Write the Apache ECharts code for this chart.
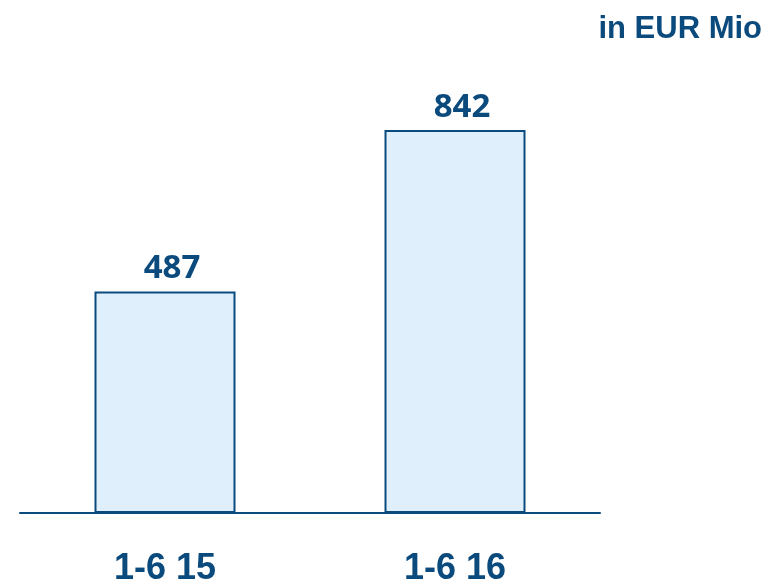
<!DOCTYPE html>
<html>
<head>
<meta charset="utf-8">
<script src="https://cdn.jsdelivr.net/npm/echarts@6/dist/echarts.min.js"></script>
<style>
  html, body { margin: 0; padding: 0; background: #ffffff; }
  #chart { width: 767px; height: 583px; }
</style>
</head>
<body>
<div id="chart"></div>
<script>
// Half-year periods and their values (EUR million)
const categories = ['1-6 15', '1-6 16'];
const values = [487, 842];
const unitLabel = 'in EUR Mio';

const navy = '#0b4a7d';

const chart = echarts.init(document.getElementById('chart'));
chart.setOption({
  animation: false,
  backgroundColor: '#ffffff',
  title: {
    text: unitLabel,
    right: 0,
    top: 9,
    textStyle: {
      fontFamily: 'Liberation Sans',
      fontWeight: 'bold',
      fontSize: 31,
      color: navy
    }
  },
  grid: { left: 20, right: 167, top: 58, bottom: 70, outerBoundsMode: 'none' },
  xAxis: {
    type: 'category',
    data: categories,
    axisLine: { lineStyle: { color: navy, width: 2 } },
    axisTick: { show: false },
    axisLabel: {
      margin: 38,
      fontFamily: 'Liberation Sans',
      fontWeight: 'bold',
      fontSize: 36,
      color: navy
    }
  },
  yAxis: {
    type: 'value',
    min: 0,
    max: 1000,
    show: false,
    splitLine: { show: false }
  },
  series: [{
    type: 'bar',
    data: values,
    barWidth: 141,
    itemStyle: {
      color: '#dff0fc',
      borderColor: navy,
      borderWidth: 2
    },
    label: {
      show: true,
      position: 'top',
      distance: 6,
      offset: [7, 0],
      fontFamily: 'Open Sans',
      fontWeight: 'bold',
      fontSize: 33,
      color: navy
    }
  }]
});
</script>
</body>
</html>
